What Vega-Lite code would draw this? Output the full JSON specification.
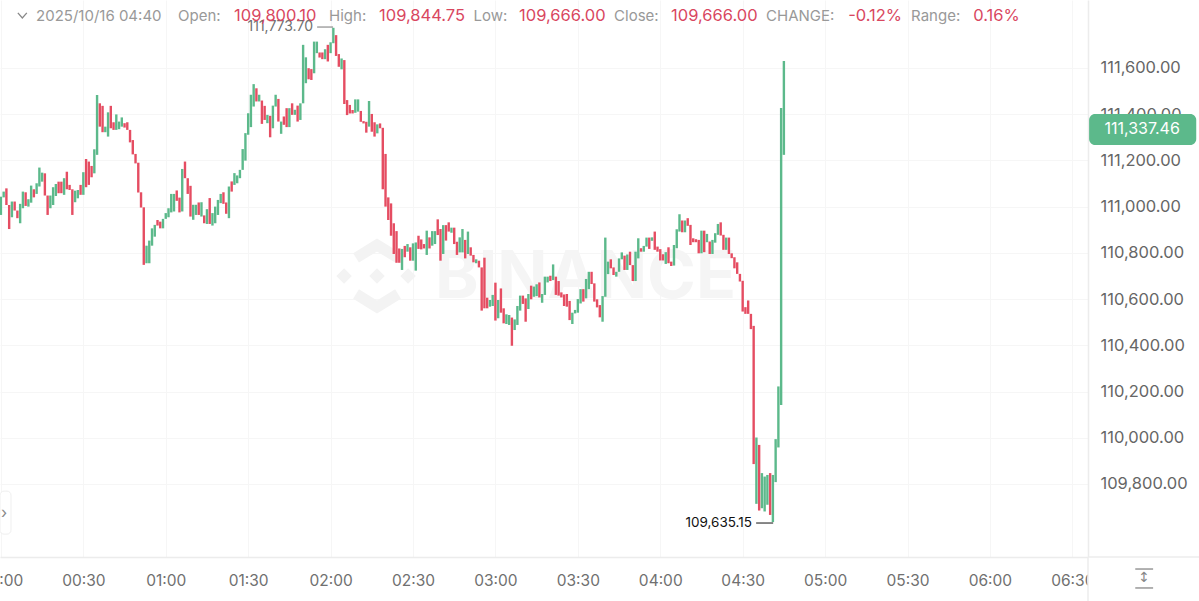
{"$schema":"https://vega.github.io/schema/vega-lite/v6.json","width":1088,"height":557,"padding":{"left":0,"top":0,"right":111,"bottom":44},"autosize":{"type":"none"},"background":"#ffffff","config":{"view":{"stroke":null},"font":"Inter"},
"resolve":{"axis":{"x":"independent","y":"independent"}},
"datasets":{"candles":[
{"t":"2025-10-16T00:00:00Z","low":110964,"high":111043,"d":"up"},{"t":"2025-10-16T00:01:00Z","low":111040,"high":111065,"d":"up"},{"t":"2025-10-16T00:02:00Z","low":111007,"high":111079,"d":"down"},{"t":"2025-10-16T00:03:00Z","low":110903,"high":111007,"d":"down"},{"t":"2025-10-16T00:04:00Z","low":110954,"high":111022,"d":"up"},{"t":"2025-10-16T00:05:00Z","low":110983,"high":111022,"d":"down"},{"t":"2025-10-16T00:06:00Z","low":110950,"high":110983,"d":"down"},{"t":"2025-10-16T00:07:00Z","low":110928,"high":111012,"d":"up"},{"t":"2025-10-16T00:08:00Z","low":110993,"high":111065,"d":"up"},{"t":"2025-10-16T00:09:00Z","low":111003,"high":111062,"d":"down"},
{"t":"2025-10-16T00:10:00Z","low":111000,"high":111032,"d":"up"},{"t":"2025-10-16T00:11:00Z","low":111017,"high":111091,"d":"up"},{"t":"2025-10-16T00:12:00Z","low":111040,"high":111075,"d":"down"},{"t":"2025-10-16T00:13:00Z","low":111055,"high":111101,"d":"up"},{"t":"2025-10-16T00:14:00Z","low":111087,"high":111169,"d":"up"},{"t":"2025-10-16T00:15:00Z","low":111108,"high":111147,"d":"up"},{"t":"2025-10-16T00:16:00Z","low":111048,"high":111144,"d":"down"},{"t":"2025-10-16T00:17:00Z","low":110964,"high":111048,"d":"down"},{"t":"2025-10-16T00:18:00Z","low":110993,"high":111048,"d":"up"},{"t":"2025-10-16T00:19:00Z","low":111007,"high":111084,"d":"up"},
{"t":"2025-10-16T00:20:00Z","low":111046,"high":111098,"d":"up"},{"t":"2025-10-16T00:21:00Z","low":111058,"high":111108,"d":"down"},{"t":"2025-10-16T00:22:00Z","low":111058,"high":111108,"d":"down"},{"t":"2025-10-16T00:23:00Z","low":111051,"high":111123,"d":"up"},{"t":"2025-10-16T00:24:00Z","low":111075,"high":111151,"d":"down"},{"t":"2025-10-16T00:25:00Z","low":111072,"high":111094,"d":"down"},{"t":"2025-10-16T00:26:00Z","low":110964,"high":111075,"d":"down"},{"t":"2025-10-16T00:27:00Z","low":111019,"high":111069,"d":"up"},{"t":"2025-10-16T00:28:00Z","low":111036,"high":111072,"d":"up"},{"t":"2025-10-16T00:29:00Z","low":111051,"high":111094,"d":"down"},
{"t":"2025-10-16T00:30:00Z","low":111051,"high":111149,"d":"up"},{"t":"2025-10-16T00:31:00Z","low":111084,"high":111206,"d":"down"},{"t":"2025-10-16T00:32:00Z","low":111094,"high":111195,"d":"down"},{"t":"2025-10-16T00:33:00Z","low":111127,"high":111176,"d":"down"},{"t":"2025-10-16T00:34:00Z","low":111144,"high":111248,"d":"up"},{"t":"2025-10-16T00:35:00Z","low":111224,"high":111483,"d":"up"},{"t":"2025-10-16T00:36:00Z","low":111346,"high":111447,"d":"down"},{"t":"2025-10-16T00:37:00Z","low":111322,"high":111436,"d":"down"},{"t":"2025-10-16T00:38:00Z","low":111322,"high":111346,"d":"up"},{"t":"2025-10-16T00:39:00Z","low":111303,"high":111408,"d":"up"},
{"t":"2025-10-16T00:40:00Z","low":111339,"high":111436,"d":"down"},{"t":"2025-10-16T00:41:00Z","low":111332,"high":111365,"d":"down"},{"t":"2025-10-16T00:42:00Z","low":111332,"high":111399,"d":"up"},{"t":"2025-10-16T00:43:00Z","low":111335,"high":111368,"d":"up"},{"t":"2025-10-16T00:44:00Z","low":111346,"high":111386,"d":"up"},{"t":"2025-10-16T00:45:00Z","low":111342,"high":111361,"d":"down"},{"t":"2025-10-16T00:46:00Z","low":111332,"high":111365,"d":"down"},{"t":"2025-10-16T00:47:00Z","low":111278,"high":111332,"d":"down"},{"t":"2025-10-16T00:48:00Z","low":111226,"high":111288,"d":"down"},{"t":"2025-10-16T00:49:00Z","low":111187,"high":111228,"d":"down"},
{"t":"2025-10-16T00:50:00Z","low":111061,"high":111190,"d":"down"},{"t":"2025-10-16T00:51:00Z","low":110996,"high":111062,"d":"down"},{"t":"2025-10-16T00:52:00Z","low":110748,"high":110997,"d":"down"},{"t":"2025-10-16T00:53:00Z","low":110755,"high":110831,"d":"up"},{"t":"2025-10-16T00:54:00Z","low":110755,"high":110853,"d":"up"},{"t":"2025-10-16T00:55:00Z","low":110831,"high":110906,"d":"up"},{"t":"2025-10-16T00:56:00Z","low":110870,"high":110921,"d":"up"},{"t":"2025-10-16T00:57:00Z","low":110918,"high":110942,"d":"down"},{"t":"2025-10-16T00:58:00Z","low":110906,"high":110935,"d":"down"},{"t":"2025-10-16T00:59:00Z","low":110906,"high":110947,"d":"up"},
{"t":"2025-10-16T01:00:00Z","low":110947,"high":110972,"d":"up"},{"t":"2025-10-16T01:01:00Z","low":110954,"high":110993,"d":"up"},{"t":"2025-10-16T01:02:00Z","low":110975,"high":111055,"d":"up"},{"t":"2025-10-16T01:03:00Z","low":110979,"high":111055,"d":"up"},{"t":"2025-10-16T01:04:00Z","low":111025,"high":111070,"d":"down"},{"t":"2025-10-16T01:05:00Z","low":110975,"high":111039,"d":"down"},{"t":"2025-10-16T01:06:00Z","low":110979,"high":111163,"d":"up"},{"t":"2025-10-16T01:07:00Z","low":111123,"high":111195,"d":"down"},{"t":"2025-10-16T01:08:00Z","low":111055,"high":111123,"d":"down"},{"t":"2025-10-16T01:09:00Z","low":110957,"high":111090,"d":"down"},
{"t":"2025-10-16T01:10:00Z","low":110943,"high":111008,"d":"up"},{"t":"2025-10-16T01:11:00Z","low":110964,"high":111008,"d":"up"},{"t":"2025-10-16T01:12:00Z","low":110964,"high":111018,"d":"down"},{"t":"2025-10-16T01:13:00Z","low":110957,"high":111019,"d":"up"},{"t":"2025-10-16T01:14:00Z","low":110928,"high":110962,"d":"down"},{"t":"2025-10-16T01:15:00Z","low":110925,"high":110989,"d":"up"},{"t":"2025-10-16T01:16:00Z","low":110925,"high":111037,"d":"down"},{"t":"2025-10-16T01:17:00Z","low":110918,"high":110972,"d":"up"},{"t":"2025-10-16T01:18:00Z","low":110928,"high":111000,"d":"up"},{"t":"2025-10-16T01:19:00Z","low":110964,"high":111029,"d":"up"},
{"t":"2025-10-16T01:20:00Z","low":111015,"high":111055,"d":"up"},{"t":"2025-10-16T01:21:00Z","low":111012,"high":111062,"d":"down"},{"t":"2025-10-16T01:22:00Z","low":110969,"high":111018,"d":"down"},{"t":"2025-10-16T01:23:00Z","low":110950,"high":111087,"d":"up"},{"t":"2025-10-16T01:24:00Z","low":111065,"high":111109,"d":"down"},{"t":"2025-10-16T01:25:00Z","low":111094,"high":111145,"d":"up"},{"t":"2025-10-16T01:26:00Z","low":111101,"high":111135,"d":"up"},{"t":"2025-10-16T01:27:00Z","low":111123,"high":111159,"d":"up"},{"t":"2025-10-16T01:28:00Z","low":111159,"high":111249,"d":"up"},{"t":"2025-10-16T01:29:00Z","low":111199,"high":111318,"d":"up"},
{"t":"2025-10-16T01:30:00Z","low":111311,"high":111404,"d":"up"},{"t":"2025-10-16T01:31:00Z","low":111344,"high":111484,"d":"up"},{"t":"2025-10-16T01:32:00Z","low":111433,"high":111530,"d":"up"},{"t":"2025-10-16T01:33:00Z","low":111455,"high":111512,"d":"down"},{"t":"2025-10-16T01:34:00Z","low":111455,"high":111484,"d":"up"},{"t":"2025-10-16T01:35:00Z","low":111358,"high":111459,"d":"down"},{"t":"2025-10-16T01:36:00Z","low":111375,"high":111436,"d":"down"},{"t":"2025-10-16T01:37:00Z","low":111361,"high":111397,"d":"up"},{"t":"2025-10-16T01:38:00Z","low":111300,"high":111393,"d":"down"},{"t":"2025-10-16T01:39:00Z","low":111339,"high":111437,"d":"up"},
{"t":"2025-10-16T01:40:00Z","low":111433,"high":111484,"d":"up"},{"t":"2025-10-16T01:41:00Z","low":111368,"high":111466,"d":"down"},{"t":"2025-10-16T01:42:00Z","low":111315,"high":111368,"d":"up"},{"t":"2025-10-16T01:43:00Z","low":111354,"high":111390,"d":"down"},{"t":"2025-10-16T01:44:00Z","low":111344,"high":111426,"d":"down"},{"t":"2025-10-16T01:45:00Z","low":111344,"high":111426,"d":"up"},{"t":"2025-10-16T01:46:00Z","low":111397,"high":111447,"d":"down"},{"t":"2025-10-16T01:47:00Z","low":111397,"high":111419,"d":"up"},{"t":"2025-10-16T01:48:00Z","low":111368,"high":111437,"d":"down"},{"t":"2025-10-16T01:49:00Z","low":111375,"high":111447,"d":"up"},
{"t":"2025-10-16T01:50:00Z","low":111447,"high":111700,"d":"up"},{"t":"2025-10-16T01:51:00Z","low":111534,"high":111646,"d":"up"},{"t":"2025-10-16T01:52:00Z","low":111551,"high":111599,"d":"down"},{"t":"2025-10-16T01:53:00Z","low":111548,"high":111595,"d":"down"},{"t":"2025-10-16T01:54:00Z","low":111577,"high":111714,"d":"up"},{"t":"2025-10-16T01:55:00Z","low":111664,"high":111714,"d":"up"},{"t":"2025-10-16T01:56:00Z","low":111645,"high":111667,"d":"down"},{"t":"2025-10-16T01:57:00Z","low":111638,"high":111667,"d":"down"},{"t":"2025-10-16T01:58:00Z","low":111638,"high":111681,"d":"up"},{"t":"2025-10-16T01:59:00Z","low":111628,"high":111700,"d":"down"},
{"t":"2025-10-16T02:00:00Z","low":111664,"high":111711,"d":"up"},{"t":"2025-10-16T02:01:00Z","low":111707,"high":111773.7,"d":"up"},{"t":"2025-10-16T02:02:00Z","low":111652,"high":111742,"d":"down"},{"t":"2025-10-16T02:03:00Z","low":111605,"high":111660,"d":"down"},{"t":"2025-10-16T02:04:00Z","low":111594,"high":111641,"d":"up"},{"t":"2025-10-16T02:05:00Z","low":111444,"high":111634,"d":"down"},{"t":"2025-10-16T02:06:00Z","low":111396,"high":111461,"d":"down"},{"t":"2025-10-16T02:07:00Z","low":111403,"high":111440,"d":"down"},{"t":"2025-10-16T02:08:00Z","low":111403,"high":111418,"d":"down"},{"t":"2025-10-16T02:09:00Z","low":111406,"high":111464,"d":"up"},
{"t":"2025-10-16T02:10:00Z","low":111411,"high":111464,"d":"up"},{"t":"2025-10-16T02:11:00Z","low":111367,"high":111414,"d":"down"},{"t":"2025-10-16T02:12:00Z","low":111360,"high":111370,"d":"down"},{"t":"2025-10-16T02:13:00Z","low":111320,"high":111367,"d":"down"},{"t":"2025-10-16T02:14:00Z","low":111346,"high":111457,"d":"up"},{"t":"2025-10-16T02:15:00Z","low":111324,"high":111401,"d":"down"},{"t":"2025-10-16T02:16:00Z","low":111303,"high":111365,"d":"down"},{"t":"2025-10-16T02:17:00Z","low":111317,"high":111356,"d":"up"},{"t":"2025-10-16T02:18:00Z","low":111339,"high":111360,"d":"down"},{"t":"2025-10-16T02:19:00Z","low":111075,"high":111341,"d":"down"},
{"t":"2025-10-16T02:20:00Z","low":111000,"high":111228,"d":"down"},{"t":"2025-10-16T02:21:00Z","low":110942,"high":111040,"d":"down"},{"t":"2025-10-16T02:22:00Z","low":110874,"high":111014,"d":"down"},{"t":"2025-10-16T02:23:00Z","low":110795,"high":110928,"d":"down"},{"t":"2025-10-16T02:24:00Z","low":110757,"high":110894,"d":"down"},{"t":"2025-10-16T02:25:00Z","low":110757,"high":110819,"d":"down"},{"t":"2025-10-16T02:26:00Z","low":110726,"high":110817,"d":"up"},{"t":"2025-10-16T02:27:00Z","low":110781,"high":110830,"d":"down"},{"t":"2025-10-16T02:28:00Z","low":110805,"high":110838,"d":"up"},{"t":"2025-10-16T02:29:00Z","low":110766,"high":110824,"d":"down"},
{"t":"2025-10-16T02:30:00Z","low":110766,"high":110841,"d":"up"},{"t":"2025-10-16T02:31:00Z","low":110723,"high":110845,"d":"up"},{"t":"2025-10-16T02:32:00Z","low":110817,"high":110874,"d":"down"},{"t":"2025-10-16T02:33:00Z","low":110815,"high":110858,"d":"down"},{"t":"2025-10-16T02:34:00Z","low":110819,"high":110838,"d":"down"},{"t":"2025-10-16T02:35:00Z","low":110791,"high":110896,"d":"up"},{"t":"2025-10-16T02:36:00Z","low":110819,"high":110867,"d":"down"},{"t":"2025-10-16T02:37:00Z","low":110831,"high":110894,"d":"up"},{"t":"2025-10-16T02:38:00Z","low":110838,"high":110894,"d":"up"},{"t":"2025-10-16T02:39:00Z","low":110877,"high":110945,"d":"down"},
{"t":"2025-10-16T02:40:00Z","low":110766,"high":110903,"d":"down"},{"t":"2025-10-16T02:41:00Z","low":110795,"high":110920,"d":"up"},{"t":"2025-10-16T02:42:00Z","low":110853,"high":110920,"d":"down"},{"t":"2025-10-16T02:43:00Z","low":110892,"high":110932,"d":"down"},{"t":"2025-10-16T02:44:00Z","low":110887,"high":110909,"d":"up"},{"t":"2025-10-16T02:45:00Z","low":110838,"high":110909,"d":"down"},{"t":"2025-10-16T02:46:00Z","low":110791,"high":110848,"d":"down"},{"t":"2025-10-16T02:47:00Z","low":110802,"high":110867,"d":"up"},{"t":"2025-10-16T02:48:00Z","low":110802,"high":110903,"d":"up"},{"t":"2025-10-16T02:49:00Z","low":110776,"high":110856,"d":"down"},
{"t":"2025-10-16T02:50:00Z","low":110795,"high":110892,"d":"up"},{"t":"2025-10-16T02:51:00Z","low":110788,"high":110824,"d":"down"},{"t":"2025-10-16T02:52:00Z","low":110759,"high":110791,"d":"down"},{"t":"2025-10-16T02:53:00Z","low":110755,"high":110772,"d":"up"},{"t":"2025-10-16T02:54:00Z","low":110737,"high":110766,"d":"down"},{"t":"2025-10-16T02:55:00Z","low":110550,"high":110737,"d":"down"},{"t":"2025-10-16T02:56:00Z","low":110560,"high":110779,"d":"down"},{"t":"2025-10-16T02:57:00Z","low":110560,"high":110606,"d":"down"},{"t":"2025-10-16T02:58:00Z","low":110567,"high":110596,"d":"up"},{"t":"2025-10-16T02:59:00Z","low":110570,"high":110618,"d":"up"},
{"t":"2025-10-16T03:00:00Z","low":110507,"high":110671,"d":"down"},{"t":"2025-10-16T03:01:00Z","low":110517,"high":110596,"d":"up"},{"t":"2025-10-16T03:02:00Z","low":110541,"high":110646,"d":"down"},{"t":"2025-10-16T03:03:00Z","low":110495,"high":110560,"d":"down"},{"t":"2025-10-16T03:04:00Z","low":110492,"high":110534,"d":"up"},{"t":"2025-10-16T03:05:00Z","low":110488,"high":110531,"d":"up"},{"t":"2025-10-16T03:06:00Z","low":110398,"high":110520,"d":"down"},{"t":"2025-10-16T03:07:00Z","low":110466,"high":110512,"d":"up"},{"t":"2025-10-16T03:08:00Z","low":110488,"high":110570,"d":"up"},{"t":"2025-10-16T03:09:00Z","low":110550,"high":110615,"d":"up"},
{"t":"2025-10-16T03:10:00Z","low":110579,"high":110615,"d":"down"},{"t":"2025-10-16T03:11:00Z","low":110502,"high":110603,"d":"down"},{"t":"2025-10-16T03:12:00Z","low":110557,"high":110622,"d":"up"},{"t":"2025-10-16T03:13:00Z","low":110599,"high":110658,"d":"down"},{"t":"2025-10-16T03:14:00Z","low":110610,"high":110654,"d":"up"},{"t":"2025-10-16T03:15:00Z","low":110613,"high":110664,"d":"up"},{"t":"2025-10-16T03:16:00Z","low":110607,"high":110672,"d":"down"},{"t":"2025-10-16T03:17:00Z","low":110584,"high":110622,"d":"up"},{"t":"2025-10-16T03:18:00Z","low":110618,"high":110697,"d":"up"},{"t":"2025-10-16T03:19:00Z","low":110672,"high":110697,"d":"up"},
{"t":"2025-10-16T03:20:00Z","low":110678,"high":110701,"d":"down"},{"t":"2025-10-16T03:21:00Z","low":110682,"high":110750,"d":"up"},{"t":"2025-10-16T03:22:00Z","low":110618,"high":110697,"d":"down"},{"t":"2025-10-16T03:23:00Z","low":110615,"high":110678,"d":"down"},{"t":"2025-10-16T03:24:00Z","low":110607,"high":110629,"d":"down"},{"t":"2025-10-16T03:25:00Z","low":110570,"high":110620,"d":"down"},{"t":"2025-10-16T03:26:00Z","low":110567,"high":110622,"d":"down"},{"t":"2025-10-16T03:27:00Z","low":110509,"high":110592,"d":"down"},{"t":"2025-10-16T03:28:00Z","low":110492,"high":110541,"d":"up"},{"t":"2025-10-16T03:29:00Z","low":110538,"high":110553,"d":"up"},
{"t":"2025-10-16T03:30:00Z","low":110541,"high":110600,"d":"up"},{"t":"2025-10-16T03:31:00Z","low":110581,"high":110643,"d":"up"},{"t":"2025-10-16T03:32:00Z","low":110589,"high":110643,"d":"down"},{"t":"2025-10-16T03:33:00Z","low":110603,"high":110687,"d":"up"},{"t":"2025-10-16T03:34:00Z","low":110643,"high":110718,"d":"up"},{"t":"2025-10-16T03:35:00Z","low":110665,"high":110718,"d":"down"},{"t":"2025-10-16T03:36:00Z","low":110589,"high":110668,"d":"down"},{"t":"2025-10-16T03:37:00Z","low":110564,"high":110599,"d":"down"},{"t":"2025-10-16T03:38:00Z","low":110521,"high":110574,"d":"down"},{"t":"2025-10-16T03:39:00Z","low":110502,"high":110613,"d":"up"},
{"t":"2025-10-16T03:40:00Z","low":110610,"high":110866,"d":"up"},{"t":"2025-10-16T03:41:00Z","low":110708,"high":110762,"d":"up"},{"t":"2025-10-16T03:42:00Z","low":110733,"high":110772,"d":"down"},{"t":"2025-10-16T03:43:00Z","low":110704,"high":110737,"d":"down"},{"t":"2025-10-16T03:44:00Z","low":110697,"high":110718,"d":"up"},{"t":"2025-10-16T03:45:00Z","low":110718,"high":110776,"d":"up"},{"t":"2025-10-16T03:46:00Z","low":110772,"high":110802,"d":"up"},{"t":"2025-10-16T03:47:00Z","low":110726,"high":110788,"d":"down"},{"t":"2025-10-16T03:48:00Z","low":110726,"high":110793,"d":"up"},{"t":"2025-10-16T03:49:00Z","low":110747,"high":110805,"d":"down"},
{"t":"2025-10-16T03:50:00Z","low":110678,"high":110747,"d":"down"},{"t":"2025-10-16T03:51:00Z","low":110678,"high":110805,"d":"up"},{"t":"2025-10-16T03:52:00Z","low":110776,"high":110863,"d":"up"},{"t":"2025-10-16T03:53:00Z","low":110805,"high":110820,"d":"down"},{"t":"2025-10-16T03:54:00Z","low":110805,"high":110830,"d":"up"},{"t":"2025-10-16T03:55:00Z","low":110827,"high":110866,"d":"up"},{"t":"2025-10-16T03:56:00Z","low":110817,"high":110866,"d":"down"},{"t":"2025-10-16T03:57:00Z","low":110852,"high":110867,"d":"up"},{"t":"2025-10-16T03:58:00Z","low":110813,"high":110892,"d":"down"},{"t":"2025-10-16T03:59:00Z","low":110805,"high":110827,"d":"down"},
{"t":"2025-10-16T04:00:00Z","low":110767,"high":110816,"d":"down"},{"t":"2025-10-16T04:01:00Z","low":110767,"high":110794,"d":"down"},{"t":"2025-10-16T04:02:00Z","low":110752,"high":110803,"d":"up"},{"t":"2025-10-16T04:03:00Z","low":110755,"high":110824,"d":"down"},{"t":"2025-10-16T04:04:00Z","low":110743,"high":110762,"d":"down"},{"t":"2025-10-16T04:05:00Z","low":110745,"high":110834,"d":"up"},{"t":"2025-10-16T04:06:00Z","low":110820,"high":110902,"d":"up"},{"t":"2025-10-16T04:07:00Z","low":110892,"high":110967,"d":"up"},{"t":"2025-10-16T04:08:00Z","low":110889,"high":110940,"d":"down"},{"t":"2025-10-16T04:09:00Z","low":110889,"high":110940,"d":"up"},
{"t":"2025-10-16T04:10:00Z","low":110917,"high":110950,"d":"down"},{"t":"2025-10-16T04:11:00Z","low":110834,"high":110921,"d":"down"},{"t":"2025-10-16T04:12:00Z","low":110846,"high":110863,"d":"down"},{"t":"2025-10-16T04:13:00Z","low":110846,"high":110859,"d":"down"},{"t":"2025-10-16T04:14:00Z","low":110798,"high":110856,"d":"down"},{"t":"2025-10-16T04:15:00Z","low":110798,"high":110896,"d":"up"},{"t":"2025-10-16T04:16:00Z","low":110803,"high":110896,"d":"down"},{"t":"2025-10-16T04:17:00Z","low":110846,"high":110882,"d":"up"},{"t":"2025-10-16T04:18:00Z","low":110795,"high":110849,"d":"down"},{"t":"2025-10-16T04:19:00Z","low":110795,"high":110856,"d":"up"},
{"t":"2025-10-16T04:20:00Z","low":110844,"high":110885,"d":"up"},{"t":"2025-10-16T04:21:00Z","low":110878,"high":110925,"d":"up"},{"t":"2025-10-16T04:22:00Z","low":110875,"high":110932,"d":"down"},{"t":"2025-10-16T04:23:00Z","low":110813,"high":110878,"d":"down"},{"t":"2025-10-16T04:24:00Z","low":110813,"high":110866,"d":"up"},{"t":"2025-10-16T04:25:00Z","low":110795,"high":110866,"d":"down"},{"t":"2025-10-16T04:26:00Z","low":110777,"high":110798,"d":"down"},{"t":"2025-10-16T04:27:00Z","low":110733,"high":110781,"d":"down"},{"t":"2025-10-16T04:28:00Z","low":110709,"high":110759,"d":"down"},{"t":"2025-10-16T04:29:00Z","low":110676,"high":110709,"d":"down"},
{"t":"2025-10-16T04:30:00Z","low":110546,"high":110679,"d":"down"},{"t":"2025-10-16T04:31:00Z","low":110536,"high":110565,"d":"down"},{"t":"2025-10-16T04:32:00Z","low":110536,"high":110594,"d":"down"},{"t":"2025-10-16T04:33:00Z","low":110470,"high":110536,"d":"down"},{"t":"2025-10-16T04:34:00Z","low":109886,"high":110484,"d":"down"},{"t":"2025-10-16T04:35:00Z","low":109714,"high":110001,"d":"up"},{"t":"2025-10-16T04:36:00Z","low":109685,"high":109969,"d":"down"},{"t":"2025-10-16T04:37:00Z","low":109695,"high":109847,"d":"up"},{"t":"2025-10-16T04:38:00Z","low":109681,"high":109832,"d":"up"},{"t":"2025-10-16T04:39:00Z","low":109710,"high":109839,"d":"up"},
{"t":"2025-10-16T04:40:00Z","low":109666,"high":109847,"d":"down"},{"t":"2025-10-16T04:41:00Z","low":109635.15,"high":109839,"d":"up"},{"t":"2025-10-16T04:42:00Z","low":109808,"high":109994,"d":"up"},{"t":"2025-10-16T04:43:00Z","low":109958,"high":110222,"d":"up"},{"t":"2025-10-16T04:44:00Z","low":110142,"high":111427,"d":"up"},{"t":"2025-10-16T04:45:00Z","low":111224,"high":111630,"d":"up"}
],
"headGrey":[{"t":"2025-10-16T00:12:47Z","p":111825,"label":"2025/10/16 04:40"},{"t":"2025-10-16T01:04:28Z","p":111825,"label":"Open:"},{"t":"2025-10-16T01:59:26Z","p":111825,"label":"High:"},{"t":"2025-10-16T02:52:02Z","p":111825,"label":"Low:"},{"t":"2025-10-16T03:43:12Z","p":111825,"label":"Close:"},{"t":"2025-10-16T04:38:30Z","p":111825,"label":"CHANGE:"},{"t":"2025-10-16T05:31:18Z","p":111825,"label":"Range:"}],
"headRed":[{"t":"2025-10-16T01:24:52Z","p":111825,"label":"109,800.10"},{"t":"2025-10-16T02:17:38Z","p":111825,"label":"109,844.75"},{"t":"2025-10-16T03:08:36Z","p":111825,"label":"109,666.00"},{"t":"2025-10-16T04:03:56Z","p":111825,"label":"109,666.00"},{"t":"2025-10-16T05:08:24Z","p":111825,"label":"-0.12%"},{"t":"2025-10-16T05:53:54Z","p":111825,"label":"0.16%"}],
"chevrons":[{"g":"top","o":1,"t":"2025-10-16T02:09:16Z","p":110778},{"g":"top","o":2,"t":"2025-10-16T02:16:54Z","p":110834},{"g":"top","o":3,"t":"2025-10-16T02:24:33Z","p":110778},{"g":"bottom","o":1,"t":"2025-10-16T02:09:16Z","p":110622},{"g":"bottom","o":2,"t":"2025-10-16T02:16:54Z","p":110566},{"g":"bottom","o":3,"t":"2025-10-16T02:24:33Z","p":110622}],
"diamonds":[{"t":"2025-10-16T02:04:54Z","p":110700},{"t":"2025-10-16T02:16:54Z","p":110700},{"t":"2025-10-16T02:28:12Z","p":110700}]
},
"layer":[
{"data":{"name":"chevrons"},"mark":{"type":"line","stroke":"#f3f3f3","strokeWidth":11,"strokeJoin":"miter","clip":false},"encoding":{"x":{"field":"t","type":"temporal","scale":{"type":"utc","domain":["2025-10-15T23:59:40Z","2025-10-16T06:35:42Z"],"nice":false},"axis":{"title":null,"orient":"bottom","format":"%H:%M","values":[{"year":2025,"month":10,"date":16,"hours":0,"minutes":0,"utc":true},{"year":2025,"month":10,"date":16,"hours":0,"minutes":30,"utc":true},{"year":2025,"month":10,"date":16,"hours":1,"minutes":0,"utc":true},{"year":2025,"month":10,"date":16,"hours":1,"minutes":30,"utc":true},{"year":2025,"month":10,"date":16,"hours":2,"minutes":0,"utc":true},{"year":2025,"month":10,"date":16,"hours":2,"minutes":30,"utc":true},{"year":2025,"month":10,"date":16,"hours":3,"minutes":0,"utc":true},{"year":2025,"month":10,"date":16,"hours":3,"minutes":30,"utc":true},{"year":2025,"month":10,"date":16,"hours":4,"minutes":0,"utc":true},{"year":2025,"month":10,"date":16,"hours":4,"minutes":30,"utc":true},{"year":2025,"month":10,"date":16,"hours":5,"minutes":0,"utc":true},{"year":2025,"month":10,"date":16,"hours":5,"minutes":30,"utc":true},{"year":2025,"month":10,"date":16,"hours":6,"minutes":0,"utc":true},{"year":2025,"month":10,"date":16,"hours":6,"minutes":30,"utc":true}],"grid":true,"gridColor":"#f6f6f6","gridWidth":1,"ticks":false,"domainColor":"#ececec","domainWidth":1.5,"labelColor":"#707070","labelFont":"Inter","labelFontSize":15.5,"labelPadding":16,"labelFlush":false,"labelOverlap":false}},"y":{"field":"p","type":"quantitative","scale":{"domain":[109484,111894],"nice":false,"zero":false},"axis":{"title":null,"orient":"right","values":[109800,110000,110200,110400,110600,110800,111000,111200,111400,111600],"format":",.2f","grid":true,"gridColor":"#f6f6f6","gridWidth":1,"ticks":false,"domainColor":"#ececec","domainWidth":1.5,"labelColor":"#666666","labelFont":"Inter","labelFontSize":16.5,"labelPadding":12,"labelAlign":"left","labelOverlap":false}},"detail":{"field":"g"},"order":{"field":"o"}}},
{"data":{"name":"diamonds"},"mark":{"type":"point","shape":"diamond","filled":true,"fill":"#f3f3f3","opacity":1,"size":240},"encoding":{"x":{"field":"t","type":"temporal","scale":{"type":"utc"},"axis":null},"y":{"field":"p","type":"quantitative","axis":null}}},
{"data":{"values":[{"t":"2025-10-16T02:38:00Z","p":110605,"label":"BINANCE"}]},"mark":{"type":"text","align":"left","baseline":"alphabetic","font":"Inter","fontWeight":700,"fontSize":66,"fill":"#f5f5f5"},"encoding":{"x":{"field":"t","type":"temporal","scale":{"type":"utc"},"axis":null},"y":{"field":"p","type":"quantitative","axis":null},"text":{"field":"label"}}},
{"data":{"name":"candles"},"mark":{"type":"rule","strokeWidth":2.4},"encoding":{"x":{"field":"t","type":"temporal","scale":{"type":"utc"},"axis":null},"y":{"field":"low","type":"quantitative","axis":null},"y2":{"field":"high"},"color":{"field":"d","type":"nominal","legend":null,"scale":{"domain":["up","down"],"range":["#5cb98b","#e54d62"]}}}},
{"data":{"values":[{"a":"2025-10-16T01:55:06Z","b":"2025-10-16T02:00:54Z","p":111777}]},"mark":{"type":"rule","stroke":"#777777","strokeWidth":1},"encoding":{"x":{"field":"a","type":"temporal","scale":{"type":"utc"},"axis":null},"x2":{"field":"b"},"y":{"field":"p","type":"quantitative","axis":null}}},
{"data":{"values":[{"a":"2025-10-16T04:34:54Z","b":"2025-10-16T04:41:06Z","p":109631}]},"mark":{"type":"rule","stroke":"#111111","strokeWidth":1},"encoding":{"x":{"field":"a","type":"temporal","scale":{"type":"utc"},"axis":null},"x2":{"field":"b"},"y":{"field":"p","type":"quantitative","axis":null}}},
{"data":{"values":[{"t":"2025-10-16T01:53:36Z","p":111777,"label":"111,773.70"}]},"mark":{"type":"text","align":"right","baseline":"middle","font":"Inter","fontSize":14,"fill":"#707070"},"encoding":{"x":{"field":"t","type":"temporal","scale":{"type":"utc"},"axis":null},"y":{"field":"p","type":"quantitative","axis":null},"text":{"field":"label"}}},
{"data":{"values":[{"t":"2025-10-16T04:33:24Z","p":109631,"label":"109,635.15"}]},"mark":{"type":"text","align":"right","baseline":"middle","font":"Inter","fontSize":13.5,"fill":"#111111"},"encoding":{"x":{"field":"t","type":"temporal","scale":{"type":"utc"},"axis":null},"y":{"field":"p","type":"quantitative","axis":null},"text":{"field":"label"}}},
{"data":{"name":"headGrey"},"mark":{"type":"text","align":"left","baseline":"middle","font":"Inter","fontSize":15,"fill":"#999999"},"encoding":{"x":{"field":"t","type":"temporal","scale":{"type":"utc"},"axis":null},"y":{"field":"p","type":"quantitative","axis":null},"text":{"field":"label"}}},
{"data":{"name":"headRed"},"mark":{"type":"text","align":"left","baseline":"middle","font":"Inter","fontSize":16.5,"fill":"#d9475f"},"encoding":{"x":{"field":"t","type":"temporal","scale":{"type":"utc"},"axis":null},"y":{"field":"p","type":"quantitative","axis":null},"text":{"field":"label"}}},
{"data":{"values":[{"g":"v","o":1,"t":"2025-10-16T00:06:10Z","p":111838},{"g":"v","o":2,"t":"2025-10-16T00:07:48Z","p":111816},{"g":"v","o":3,"t":"2025-10-16T00:09:26Z","p":111838}]},"mark":{"type":"line","stroke":"#888888","strokeWidth":1.3},"encoding":{"x":{"field":"t","type":"temporal","scale":{"type":"utc"},"axis":null},"y":{"field":"p","type":"quantitative","axis":null},"order":{"field":"o"}}},
{"data":{"values":[{"a":"2025-10-15T23:59:40Z","b":"2025-10-16T00:03:40Z","hi":109769,"lo":109583}]},"mark":{"type":"rect","fill":"#ffffff","stroke":"#efefef","strokeWidth":1,"cornerRadius":4},"encoding":{"x":{"field":"a","type":"temporal","scale":{"type":"utc"},"axis":null},"x2":{"field":"b"},"y":{"field":"hi","type":"quantitative","axis":null},"y2":{"field":"lo"}}},
{"data":{"values":[{"t":"2025-10-16T00:01:10Z","p":109674,"label":"›"}]},"mark":{"type":"text","font":"Inter","fontSize":16,"fill":"#888888","baseline":"middle"},"encoding":{"x":{"field":"t","type":"temporal","scale":{"type":"utc"},"axis":null},"y":{"field":"p","type":"quantitative","axis":null},"text":{"field":"label"}}},
{"data":{"values":[{"a":"2025-10-16T06:36:06Z","b":"2025-10-16T07:15:06Z","hi":111401,"lo":111267}]},"mark":{"type":"rect","fill":"#5cb98b","cornerRadius":6},"encoding":{"x":{"field":"a","type":"temporal","scale":{"type":"utc"},"axis":null},"x2":{"field":"b"},"y":{"field":"hi","type":"quantitative","axis":null},"y2":{"field":"lo"}}},
{"data":{"values":[{"t":"2025-10-16T06:55:24Z","p":111337,"label":"111,337.46"}]},"mark":{"type":"text","font":"Inter","fontSize":16,"fill":"#ffffff","baseline":"middle"},"encoding":{"x":{"field":"t","type":"temporal","scale":{"type":"utc"},"axis":null},"y":{"field":"p","type":"quantitative","axis":null},"text":{"field":"label"}}},
{"data":{"values":[{"a":"2025-10-16T06:35:42Z","b":"2025-10-16T07:17:00Z","hi":109478,"lo":109290}]},"mark":{"type":"rect","fill":"#ffffff"},"encoding":{"x":{"field":"a","type":"temporal","scale":{"type":"utc"},"axis":null},"x2":{"field":"b"},"y":{"field":"hi","type":"quantitative","axis":null},"y2":{"field":"lo"}}},
{"data":{"values":[{"a":"2025-10-16T06:35:42Z","b":"2025-10-16T07:17:00Z","p":109484}]},"mark":{"type":"rule","stroke":"#ececec","strokeWidth":1.5},"encoding":{"x":{"field":"a","type":"temporal","scale":{"type":"utc"},"axis":null},"x2":{"field":"b"},"y":{"field":"p","type":"quantitative","axis":null}}},
{"data":{"values":[{"t":"2025-10-16T06:35:42Z","hi":109484,"lo":109290}]},"mark":{"type":"rule","stroke":"#ececec","strokeWidth":1.5},"encoding":{"x":{"field":"t","type":"temporal","scale":{"type":"utc"},"axis":null},"y":{"field":"hi","type":"quantitative","axis":null},"y2":{"field":"lo"}}},
{"data":{"values":[{"a":"2025-10-16T06:52:54Z","b":"2025-10-16T06:59:24Z","p":109432},{"a":"2025-10-16T06:52:54Z","b":"2025-10-16T06:59:24Z","p":109350}]},"mark":{"type":"rule","stroke":"#888888","strokeWidth":1.3},"encoding":{"x":{"field":"a","type":"temporal","scale":{"type":"utc"},"axis":null},"x2":{"field":"b"},"y":{"field":"p","type":"quantitative","axis":null}}},
{"data":{"values":[{"t":"2025-10-16T06:56:06Z","p":109391,"label":"↕"}]},"mark":{"type":"text","font":"DejaVu Sans","fontSize":14,"fill":"#888888","baseline":"middle"},"encoding":{"x":{"field":"t","type":"temporal","scale":{"type":"utc"},"axis":null},"y":{"field":"p","type":"quantitative","axis":null},"text":{"field":"label"}}}
]}
